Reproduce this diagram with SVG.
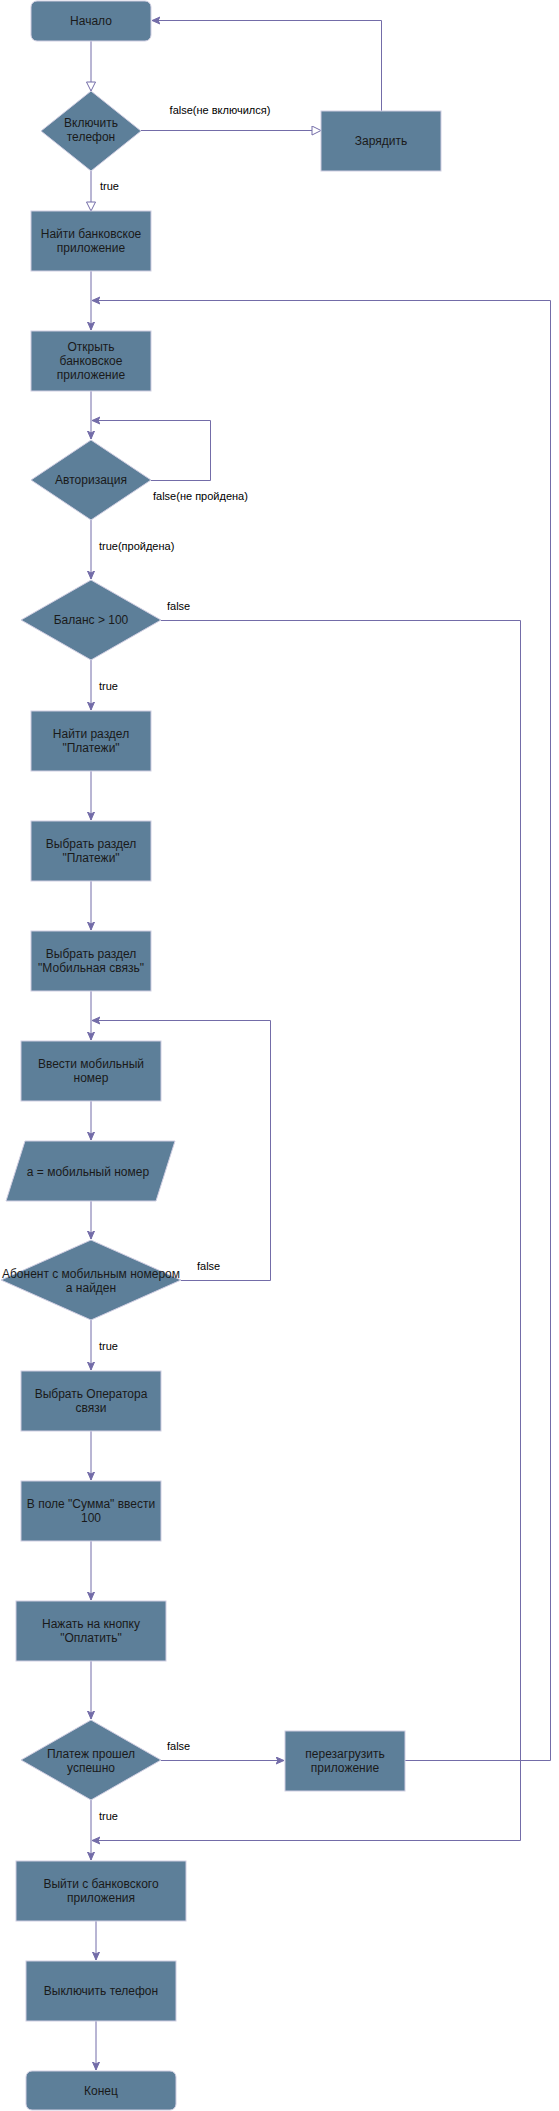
<svg xmlns="http://www.w3.org/2000/svg" width="559" height="2111" viewBox="0 0 559 2111">
<style>
.n{fill:#5D7F99;stroke:#D0CEE2;stroke-width:1}
.t{font-family:"Liberation Sans",Arial,sans-serif;font-size:12px;fill:#1A1A1A;text-anchor:middle}
.l{font-family:"Liberation Sans",Arial,sans-serif;font-size:11px;fill:#000000}
.e{fill:none;stroke:#736CA8;stroke-width:1}
.ea{marker-end:url(#arr)}
.eh{marker-end:url(#hol)}
</style>
<defs>
<marker id="arr" markerWidth="10" markerHeight="10" refX="8" refY="4" orient="auto" markerUnits="userSpaceOnUse">
<path d="M0,0.5 L8,4 L0,7.5 L2,4 Z" fill="#736CA8" stroke="#736CA8" stroke-width="1"/>
</marker>
<marker id="hol" markerWidth="12" markerHeight="12" refX="10" refY="5" orient="auto" markerUnits="userSpaceOnUse">
<path d="M1,0.5 L10,5 L1,9.5 Z" fill="#FFFFFF" stroke="#736CA8" stroke-width="1"/>
</marker>
</defs>
<rect width="559" height="2111" fill="#FFFFFF"/>

<g id="connectors">
<path class="e eh" d="M91,41 V91"/>
<path class="e eh" d="M141,130.5 H321"/>
<path class="e ea" d="M381.5,111 V20.5 H152"/>
<path class="e eh" d="M91,171 V211"/>
<path class="e ea" d="M91,271 V330"/>
<path class="e ea" d="M91,391 V439"/>
<path class="e ea" d="M151,480.5 H210.5 V420.5 H92"/>
<path class="e ea" d="M91,520 V579"/>
<path class="e ea" d="M161,620.5 H520.5 V1840.5 H92"/>
<path class="e ea" d="M91,660 V710"/>
<path class="e ea" d="M91,771 V820"/>
<path class="e ea" d="M91,881 V930"/>
<path class="e ea" d="M91,991 V1040"/>
<path class="e ea" d="M91,1101 V1140"/>
<path class="e ea" d="M91,1201 V1239"/>
<path class="e ea" d="M181,1280.5 H270.5 V1020.5 H92"/>
<path class="e ea" d="M91,1320 V1370"/>
<path class="e ea" d="M91,1431 V1480"/>
<path class="e ea" d="M91,1541 V1600"/>
<path class="e ea" d="M91,1661 V1719"/>
<path class="e ea" d="M161,1760.5 H284"/>
<path class="e ea" d="M405,1760.5 H550.5 V300.5 H92"/>
<path class="e ea" d="M91,1800 V1860"/>
<path class="e ea" d="M96,1921 V1960"/>
<path class="e ea" d="M96,2021 V2070"/>
<text class="l" x="220" y="114" text-anchor="middle">false(не включился)</text>
<text class="l" x="100" y="190">true</text>
<text class="l" x="153" y="500">false(не пройдена)</text>
<text class="l" x="99" y="550">true(пройдена)</text>
<text class="l" x="167" y="610">false</text>
<text class="l" x="99" y="690">true</text>
<text class="l" x="197" y="1270">false</text>
<text class="l" x="99" y="1350">true</text>
<text class="l" x="167" y="1750">false</text>
<text class="l" x="99" y="1820">true</text>
</g>

<g id="start"><rect class="n" x="31" y="1" width="120" height="40" rx="6"/><text class="t" x="91" y="25">Начало</text></g>
<g id="turn_on"><polygon class="n" points="91,91 141,131 91,171 41,131"/><text class="t" x="91" y="127">Включить</text><text class="t" x="91" y="141">телефон</text></g>
<g id="charge"><rect class="n" x="321" y="111" width="120" height="60"/><text class="t" x="381" y="145">Зарядить</text></g>
<g id="find_app"><rect class="n" x="31" y="211" width="120" height="60"/><text class="t" x="91" y="238">Найти банковское</text><text class="t" x="91" y="252">приложение</text></g>
<g id="open_app"><rect class="n" x="31" y="331" width="120" height="60"/><text class="t" x="91" y="351">Открыть</text><text class="t" x="91" y="365">банковское</text><text class="t" x="91" y="379">приложение</text></g>
<g id="auth"><polygon class="n" points="91,440 151,480 91,520 31,480"/><text class="t" x="91" y="484">Авторизация</text></g>
<g id="balance"><polygon class="n" points="91,580 161,620 91,660 21,620"/><text class="t" x="91" y="624">Баланс &gt; 100</text></g>
<g id="find_pay"><rect class="n" x="31" y="711" width="120" height="60"/><text class="t" x="91" y="738">Найти раздел</text><text class="t" x="91" y="752">"Платежи"</text></g>
<g id="choose_pay"><rect class="n" x="31" y="821" width="120" height="60"/><text class="t" x="91" y="848">Выбрать раздел</text><text class="t" x="91" y="862">"Платежи"</text></g>
<g id="choose_mobile"><rect class="n" x="31" y="931" width="120" height="60"/><text class="t" x="91" y="958">Выбрать раздел</text><text class="t" x="91" y="972">"Мобильная связь"</text></g>
<g id="enter_number"><rect class="n" x="21" y="1041" width="140" height="60"/><text class="t" x="91" y="1068">Ввести мобильный</text><text class="t" x="91" y="1082">номер</text></g>
<g id="assign"><polygon class="n" points="25,1141 175,1141 156,1201 6,1201"/><text class="t" x="88" y="1176">a = мобильный номер</text></g>
<g id="found"><polygon class="n" points="91,1240 181,1280 91,1320 1,1280"/><text class="t" x="91" y="1278">Абонент с мобильным номером</text><text class="t" x="91" y="1292">a найден</text></g>
<g id="operator"><rect class="n" x="21" y="1371" width="140" height="60"/><text class="t" x="91" y="1398">Выбрать Оператора</text><text class="t" x="91" y="1412">связи</text></g>
<g id="sum"><rect class="n" x="21" y="1481" width="140" height="60"/><text class="t" x="91" y="1508">В поле "Сумма" ввести</text><text class="t" x="91" y="1522">100</text></g>
<g id="pay_button"><rect class="n" x="16" y="1601" width="150" height="60"/><text class="t" x="91" y="1628">Нажать на кнопку</text><text class="t" x="91" y="1642">"Оплатить"</text></g>
<g id="paid"><polygon class="n" points="91,1720 161,1760 91,1800 21,1760"/><text class="t" x="91" y="1758">Платеж прошел</text><text class="t" x="91" y="1772">успешно</text></g>
<g id="reload"><rect class="n" x="285" y="1731" width="120" height="60"/><text class="t" x="345" y="1758">перезагрузить</text><text class="t" x="345" y="1772">приложение</text></g>
<g id="exit"><rect class="n" x="16" y="1861" width="170" height="60"/><text class="t" x="101" y="1888">Выйти с банковского</text><text class="t" x="101" y="1902">приложения</text></g>
<g id="phone_off"><rect class="n" x="26" y="1961" width="150" height="60"/><text class="t" x="101" y="1995">Выключить телефон</text></g>
<g id="end"><rect class="n" x="26" y="2071" width="150" height="39" rx="6"/><text class="t" x="101" y="2095">Конец</text></g>
</svg>
